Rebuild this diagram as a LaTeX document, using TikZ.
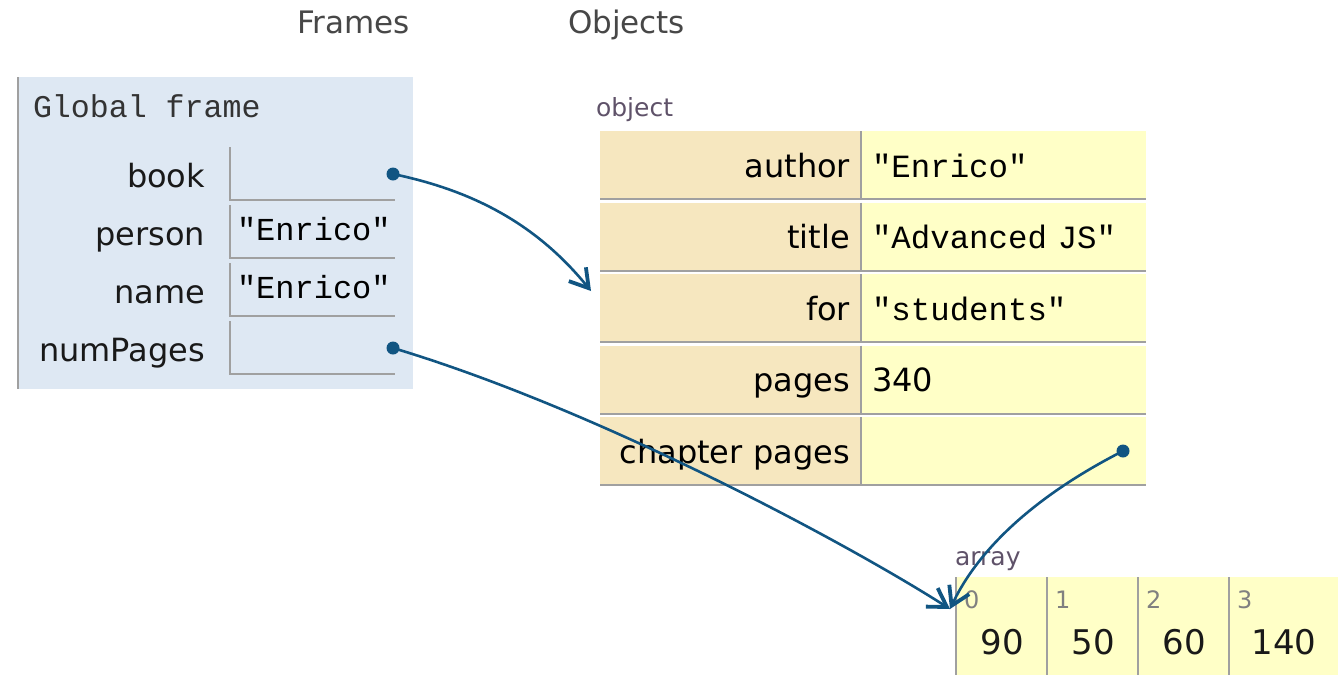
\documentclass[tikz,border=0pt]{standalone}
\usepackage{fontspec}
\setmainfont{DejaVu Sans}
\newfontfamily\codefont{Liberation Mono}
\usepackage{xcolor}
\usepackage{tikz}
\usetikzlibrary{arrows.meta}
\definecolor{frameblue}{RGB}{222,232,243}
\definecolor{keytan}{RGB}{246,231,191}
\definecolor{valyellow}{RGB}{255,255,199}
\definecolor{gridgrey}{RGB}{160,160,160}
\definecolor{ptrblue}{RGB}{17,85,130}
\definecolor{tagpurple}{RGB}{95,82,105}
\begin{document}
\begin{tikzpicture}[x=0.5pt,y=-0.5pt]
	\useasboundingbox (0,0) rectangle (1342,675);
	\tikzstyle{every node}=[inner sep=0pt,outer sep=0pt];
	\tikzstyle{heading}=[anchor=base west,text=black!72,font=\fontsize{15.5}{18}\selectfont];
	\tikzstyle{tag}=[anchor=base west,text=tagpurple,font=\fontsize{12.5}{15}\selectfont];
	\tikzstyle{varname}=[anchor=base east,text=black!90,font=\fontsize{16}{19}\selectfont];
	\tikzstyle{varcell}=[anchor=north west,minimum width=82.5pt,minimum height=26.5pt,text width=75.5pt,text height=11pt,text depth=2pt,inner xsep=3.5pt,align=left,font=\codefont\fontsize{16}{18}\selectfont];
	\tikzstyle{keycell}=[anchor=north west,fill=keytan,minimum width=130.5pt,minimum height=34pt,text width=119.5pt,text height=14pt,text depth=2pt,inner xsep=5.5pt,align=right,font=\fontsize{16}{19}\selectfont];
	\tikzstyle{valcell}=[anchor=north west,fill=valyellow,minimum width=142.5pt,minimum height=34pt,text width=131.5pt,text height=14pt,text depth=2pt,inner xsep=5.5pt,align=left,font=\codefont\fontsize{16.2}{18}\selectfont];
	\tikzstyle{arrcell}=[anchor=north west,fill=valyellow,minimum height=49pt];
	\tikzstyle{idx}=[anchor=base west,text=black!50,font=\fontsize{12}{14}\selectfont];
	\tikzstyle{arrval}=[anchor=base,text=black!90,font=\fontsize{17}{20}\selectfont];
	\tikzstyle{gridline}=[draw=gridgrey,line width=1pt];
	\tikzstyle{ptrdot}=[circle,fill=ptrblue,minimum size=6.5pt];
	\tikzstyle{pointer}=[draw=ptrblue,line width=1.3pt,-{Straight Barb[length=9pt,width=11pt,line width=1.9pt]}];

	\node[heading] (hframes) at (297,33) {Frames};
	\node[heading] (hobjects) at (568,33) {Objects};

	\node[anchor=north west,fill=frameblue,minimum width=197.5pt,minimum height=156pt] (gframe) at (18,77) {};
	\draw[gridline] (gframe.north west) -- (gframe.south west);
	\node[anchor=base west,text=black!80,font=\codefont\fontsize{15.8}{18}\selectfont] (gtitle) at (33,117) {Global frame};

	\node[varname] (lbook) at (205,187) {book};
	\node[varname] (lperson) at (205,245) {person};
	\node[varname] (lname) at (205,303) {name};
	\node[varname] (lnum) at (205,361) {numPages};
	\node[varcell] (vbook) at (230,147) {};
	\node[varcell] (vperson) at (230,205) {"Enrico"};
	\node[varcell] (vname) at (230,263) {"Enrico"};
	\node[varcell] (vnum) at (230,321) {};
	\draw[gridline] (vbook.north west) |- (vbook.south east);
	\draw[gridline] (vperson.north west) |- (vperson.south east);
	\draw[gridline] (vname.north west) |- (vname.south east);
	\draw[gridline] (vnum.north west) |- (vnum.south east);
	\node[ptrdot] (pbook) at (393,174) {};
	\node[ptrdot] (pnum) at (393,348) {};

	\node[tag] (tobject) at (596,116) {object};
	\node[keycell] (kauthor) at (600,131) {author};
	\node[keycell] (ktitle) at (600,202.5) {title};
	\node[keycell] (kfor) at (600,274) {for};
	\node[keycell] (kpages) at (600,345.5) {pages};
	\node[keycell] (kchapter) at (600,417) {chapter pages};
	\node[valcell] (vauthor) at (861,131) {"Enrico"};
	\node[valcell] (vtitle) at (861,202.5) {"Advanced JS"};
	\node[valcell] (vfor) at (861,274) {"students"};
	\node[valcell,font=\fontsize{16}{19}\selectfont] (vpages) at (861,345.5) {340};
	\node[valcell] (vchapter) at (861,417) {};
	\draw[gridline] (kauthor.south west) -- (vauthor.south east) (kauthor.north east) -- (kauthor.south east);
	\draw[gridline] (ktitle.south west) -- (vtitle.south east) (ktitle.north east) -- (ktitle.south east);
	\draw[gridline] (kfor.south west) -- (vfor.south east) (kfor.north east) -- (kfor.south east);
	\draw[gridline] (kpages.south west) -- (vpages.south east) (kpages.north east) -- (kpages.south east);
	\draw[gridline] (kchapter.south west) -- (vchapter.south east) (kchapter.north east) -- (kchapter.south east);
	\node[ptrdot] (pchapter) at (1123,451) {};

	\node[tag] (tarray) at (955,565) {array};
	\node[arrcell,minimum width=45.5pt] (a0) at (956,577) {};
	\node[arrcell,minimum width=45.5pt] (a1) at (1047,577) {};
	\node[arrcell,minimum width=45.5pt] (a2) at (1138,577) {};
	\node[arrcell,minimum width=54.5pt] (a3) at (1229,577) {};
	\draw[gridline] (a0.north west) -- (a0.south west) (a1.north west) -- (a1.south west)
			(a2.north west) -- (a2.south west) (a3.north west) -- (a3.south west);
	\node[idx] (i0) at (964,608) {0};
	\node[idx] (i1) at (1055,608) {1};
	\node[idx] (i2) at (1146,608) {2};
	\node[idx] (i3) at (1237,608) {3};
	\node[arrval] (n0) at (1002,654) {90};
	\node[arrval] (n1) at (1093,654) {50};
	\node[arrval] (n2) at (1184,654) {60};
	\node[arrval] (n3) at (1284,654) {140};

	\coordinate (objin) at (591,291);
	\coordinate (arrin) at (950,609);
	\draw[pointer] (pbook.center) .. controls (470,190) and (535,222) .. (objin);
	\draw[pointer] (pnum.center) .. controls (600,410) and (850,545) .. (arrin);
	\draw[pointer] (pchapter.center) .. controls (1058,484) and (985,535) .. (arrin);
\end{tikzpicture}
\end{document}
